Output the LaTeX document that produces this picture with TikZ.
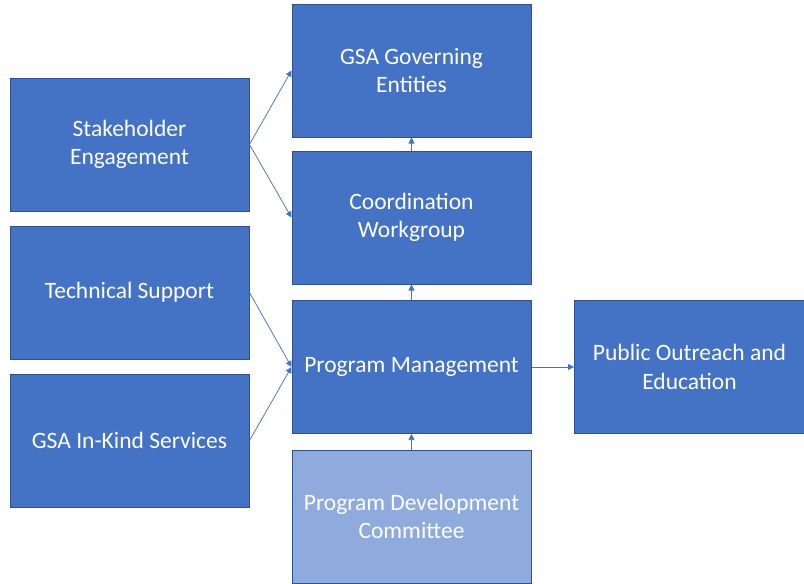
\documentclass[tikz,border=0pt]{standalone}
\usepackage{fontspec}
\setmainfont{Carlito}
\usetikzlibrary{arrows.meta}
\definecolor{boxfill}{HTML}{4472C4}
\definecolor{boxline}{HTML}{2F528F}
\definecolor{lightfill}{HTML}{8FAADC}
\definecolor{arrowc}{HTML}{4472C4}
\begin{document}
\begin{tikzpicture}[x=1pt,y=-1pt,
  box/.style={draw=boxline,line width=1pt,fill=boxfill,text=white,minimum width=239pt,minimum height=133pt,inner sep=0pt,align=center,font=\fontsize{23.5}{28.7}\selectfont},
  lightbox/.style={box,fill=lightfill},
  conn/.style={draw=arrowc,line width=0.75pt,-{Triangle[length=6pt,width=6pt]}}]
\useasboundingbox (0,0) rectangle (804,584);
\node[box] (se) at (129.5,144.5) {Stakeholder\\Engagement};
\node[box] (ts) at (129.5,292.5) {Technical Support};
\node[box] (ik) at (129.5,440.5) {GSA In-Kind Services};
\node[box] (ge) at (411.5,70.5) {GSA Governing\\Entities};
\node[box] (cw) at (411.5,217.5) {Coordination\\Workgroup};
\node[box] (pm) at (411.5,367) {Program Management};
\node[lightbox] (pdc) at (411.5,516.5) {Program Development\\Committee};
\node[box,minimum width=230pt] (po) at (689.5,367) {Public Outreach and\\Education};
\draw[conn] (se.east) -- (ge.west);
\draw[conn] (se.east) -- (cw.west);
\draw[conn] (ts.east) -- (pm.west);
\draw[conn] (ik.east) -- (pm.west);
\draw[conn] (cw.north) -- (ge.south);
\draw[conn] (pm.north) -- (cw.south);
\draw[conn] (pdc.north) -- (pm.south);
\draw[conn] (pm.east) -- (po.west);
\end{tikzpicture}
\end{document}
